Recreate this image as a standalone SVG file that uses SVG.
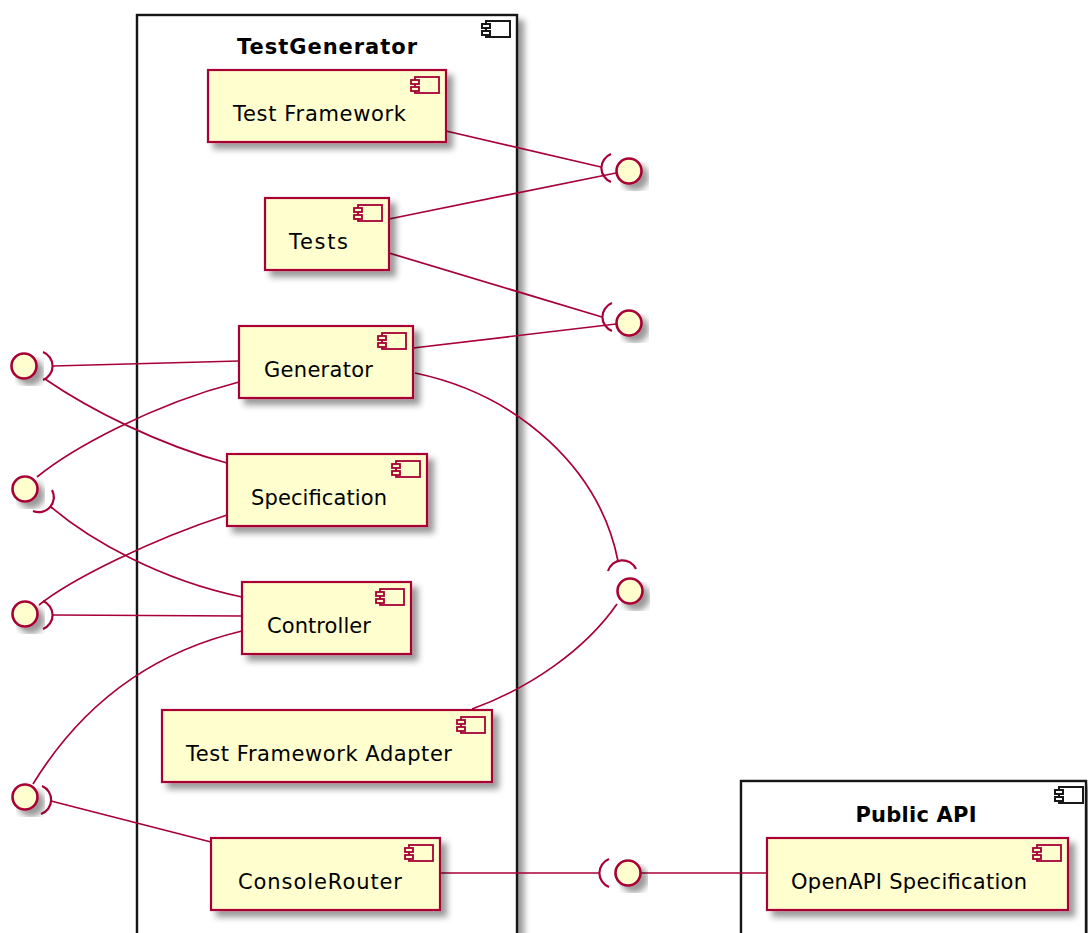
<svg xmlns="http://www.w3.org/2000/svg" width="1088" height="933" viewBox="0 0 1088 933">
  <style>
    .frame { fill: #ffffff; stroke: #181818; stroke-width: 2.4; }
    .ficon { fill: #ffffff; stroke: #181818; stroke-width: 2; }
    .title { font-family: "DejaVu Sans", "Liberation Sans", sans-serif; font-size: 21px; font-weight: bold; fill: #000000; }
    .box { fill: #FEFECE; stroke: #A80036; stroke-width: 2.2; }
    .icon { fill: #FEFECE; stroke: #A80036; stroke-width: 1.8; }
    .label { font-family: "DejaVu Sans", "Liberation Sans", sans-serif; font-size: 21px; fill: #000000; }
    .iface { fill: #FEFECE; stroke: #A80036; stroke-width: 2.6; }
    .link { fill: none; stroke: #A80036; stroke-width: 1.7; }
    .socket { fill: none; stroke: #A80036; stroke-width: 2.2; }
  </style>
  <defs>
    <filter id="shadow" x="-10%" y="-10%" width="140%" height="140%">
      <feGaussianBlur in="SourceAlpha" stdDeviation="3"/>
      <feOffset dx="6" dy="6" result="off"/>
      <feFlood flood-color="#000000" flood-opacity="0.4"/>
      <feComposite in2="off" operator="in"/>
      <feMerge>
        <feMergeNode/>
        <feMergeNode in="SourceGraphic"/>
      </feMerge>
    </filter>
    <!-- small component glyph, origin at its top-left small tab -->
    <g id="compIcon">
      <rect x="4" y="0" width="24" height="16" class="icon"/>
      <rect x="0" y="3" width="8" height="4" class="icon"/>
      <rect x="0" y="10" width="8" height="4" class="icon"/>
    </g>
    <g id="pkgIcon">
      <rect x="4" y="0" width="24" height="16" class="ficon"/>
      <rect x="0" y="3" width="8" height="4" class="ficon"/>
      <rect x="0" y="10" width="8" height="4" class="ficon"/>
    </g>
  </defs>

  <!-- packages -->
  <g id="pkg-testgenerator">
    <rect x="137" y="15" width="380" height="940" class="frame" filter="url(#shadow)"/>
    <use href="#pkgIcon" x="482" y="21"/>
    <text x="327" y="54" text-anchor="middle" class="title" textLength="180" lengthAdjust="spacing">TestGenerator</text>
  </g>
  <g id="pkg-publicapi">
    <rect x="741" y="781" width="345" height="180" class="frame" filter="url(#shadow)"/>
    <use href="#pkgIcon" x="1055" y="787"/>
    <text x="916" y="822" text-anchor="middle" class="title" textLength="121" lengthAdjust="spacing">Public API</text>
  </g>

  <!-- connectors -->
  <g id="connectors">
    <path class="link" d="M 446 131 L 601 167"/>
    <path class="link" d="M 389 219 L 616 173"/>
    <path class="link" d="M 389 253 L 602 317"/>
    <path class="link" d="M 413 348 L 616 324"/>
    <path class="link" d="M 415 373 C 520 395, 600 470, 618 561"/>
    <path class="link" d="M 472 709 C 530 688, 585 650, 617 604"/>
    <path class="link" d="M 440 873 L 599 873"/>
    <path class="link" d="M 641 873 L 767 873"/>

    <path class="link" d="M 53 366 L 239 361"/>
    <path class="link" d="M 45 379 C 90 410, 160 445, 227 463"/>
    <path class="link" d="M 37 477 C 70 450, 150 405, 239 382"/>
    <path class="link" d="M 51 507 C 90 540, 160 580, 242 597"/>
    <path class="link" d="M 39 605 C 70 580, 150 540, 227 515"/>
    <path class="link" d="M 53 615 L 242 616"/>
    <path class="link" d="M 33 784 C 60 740, 120 660, 242 631"/>
    <path class="link" d="M 51 801 L 211 842"/>
  </g>

  <!-- provided/required interfaces on the right -->
  <g id="iface-r1">
    <path class="socket" d="M 611 154 A 15 15 0 0 0 611 182"/>
    <circle cx="629" cy="171" r="12.5" class="iface" filter="url(#shadow)"/>
  </g>
  <g id="iface-r2">
    <path class="socket" d="M 612 303 A 15 15 0 0 0 612 331"/>
    <circle cx="629" cy="323" r="12.5" class="iface" filter="url(#shadow)"/>
  </g>
  <g id="iface-r3">
    <path class="socket" d="M 608 571 A 15 15 0 0 1 636 569"/>
    <circle cx="630" cy="591" r="12.5" class="iface" filter="url(#shadow)"/>
  </g>
  <g id="iface-r4">
    <path class="socket" d="M 609 859 A 15 15 0 0 0 609 887"/>
    <circle cx="628" cy="873" r="12.5" class="iface" filter="url(#shadow)"/>
  </g>

  <!-- interfaces on the left -->
  <g id="iface-l1">
    <path class="socket" d="M 43 352 A 15 15 0 0 1 43 380"/>
    <circle cx="24" cy="366" r="12.5" class="iface" filter="url(#shadow)"/>
  </g>
  <g id="iface-l2">
    <path class="socket" d="M 52 490 A 15 15 0 0 1 33 511"/>
    <circle cx="25" cy="489" r="12.5" class="iface" filter="url(#shadow)"/>
  </g>
  <g id="iface-l3">
    <path class="socket" d="M 43 601 A 15 15 0 0 1 43 629"/>
    <circle cx="25" cy="614" r="12.5" class="iface" filter="url(#shadow)"/>
  </g>
  <g id="iface-l4">
    <path class="socket" d="M 42 786 A 15 15 0 0 1 41 814"/>
    <circle cx="25" cy="797" r="12.5" class="iface" filter="url(#shadow)"/>
  </g>

  <!-- components -->
  <g id="test-framework">
    <rect x="208" y="70" width="238" height="72" class="box" filter="url(#shadow)"/>
    <use href="#compIcon" x="411" y="77"/>
    <text x="233" y="121" class="label" textLength="173" lengthAdjust="spacing">Test Framework</text>
  </g>
  <g id="tests">
    <rect x="265" y="198" width="124" height="72" class="box" filter="url(#shadow)"/>
    <use href="#compIcon" x="354" y="205"/>
    <text x="289" y="249" class="label" textLength="59" lengthAdjust="spacing">Tests</text>
  </g>
  <g id="generator">
    <rect x="239" y="326" width="174" height="72" class="box" filter="url(#shadow)"/>
    <use href="#compIcon" x="378" y="333"/>
    <text x="264" y="377" class="label" textLength="109" lengthAdjust="spacing">Generator</text>
  </g>
  <g id="specification">
    <rect x="227" y="454" width="200" height="72" class="box" filter="url(#shadow)"/>
    <use href="#compIcon" x="392" y="461"/>
    <text x="251" y="505" class="label" textLength="136" lengthAdjust="spacing">Specification</text>
  </g>
  <g id="controller">
    <rect x="242" y="582" width="169" height="72" class="box" filter="url(#shadow)"/>
    <use href="#compIcon" x="376" y="589"/>
    <text x="267" y="633" class="label" textLength="104" lengthAdjust="spacing">Controller</text>
  </g>
  <g id="test-framework-adapter">
    <rect x="162" y="710" width="330" height="72" class="box" filter="url(#shadow)"/>
    <use href="#compIcon" x="457" y="717"/>
    <text x="186" y="761" class="label" textLength="266" lengthAdjust="spacing">Test Framework Adapter</text>
  </g>
  <g id="console-router">
    <rect x="211" y="838" width="229" height="72" class="box" filter="url(#shadow)"/>
    <use href="#compIcon" x="405" y="845"/>
    <text x="238" y="889" class="label" textLength="164" lengthAdjust="spacing">ConsoleRouter</text>
  </g>
  <g id="openapi-specification">
    <rect x="767" y="838" width="301" height="72" class="box" filter="url(#shadow)"/>
    <use href="#compIcon" x="1033" y="845"/>
    <text x="791" y="889" class="label" textLength="236" lengthAdjust="spacing">OpenAPI Specification</text>
  </g>
</svg>
